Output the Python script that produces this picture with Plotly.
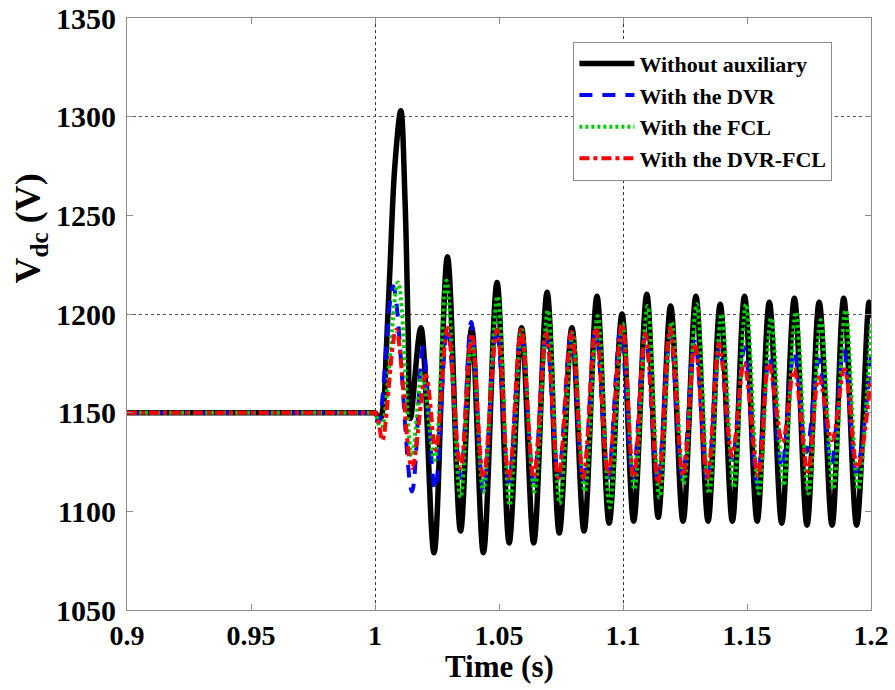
import plotly.graph_objects as go

# ---------------- data (extrema) ----------------
t_black = [0.9, 0.95, 0.998, 0.9995, 1.0, 1.002, 1.0035, 1.0045, 1.006, 1.008, 1.0104, 1.0121, 1.0134, 1.0143,
           1.0185, 1.0238, 1.0292, 1.0345, 1.039, 1.0437, 1.0492, 1.0541, 1.0591, 1.064,
           1.0694, 1.0743, 1.0794, 1.0843, 1.0895, 1.0944, 1.0996, 1.1043, 1.1096, 1.1142,
           1.1192, 1.1242, 1.1294, 1.1343, 1.1392, 1.1441, 1.149, 1.1541, 1.159, 1.164,
           1.1691, 1.1742, 1.1791, 1.1843, 1.189, 1.1942, 1.1992, 1.2]
v_black = [1150, 1150, 1150, 1150, 1150, 1147, 1155, 1180, 1222, 1275, 1303, 1258, 1190, 1147,
           1193, 1079, 1229, 1090, 1193, 1079, 1216, 1084, 1193, 1084,
           1211, 1089, 1193, 1090, 1209, 1094, 1200, 1095, 1210, 1097,
           1204, 1095, 1209, 1095, 1205, 1095, 1209, 1095, 1206, 1094,
           1208, 1093, 1206, 1093, 1208, 1093, 1206, 1198]

t_dvr = [0.9, 0.95, 0.998, 0.9995, 1.0, 1.0015, 1.0073, 1.0149, 1.0194, 1.0242, 1.0292, 1.0345, 1.0388, 1.0437,
         1.049, 1.054, 1.0589, 1.064, 1.069, 1.074, 1.079, 1.084, 1.089, 1.094, 1.099,
         1.104, 1.109, 1.114, 1.119, 1.124, 1.129, 1.134, 1.139, 1.144, 1.149, 1.154,
         1.159, 1.164, 1.169, 1.174, 1.179, 1.184, 1.189, 1.194, 1.2]
v_dvr = [1150, 1150, 1150, 1150, 1150, 1145, 1214, 1110, 1183, 1111, 1193, 1117, 1196, 1110,
         1193, 1115, 1190, 1115, 1190, 1117, 1190, 1115, 1192, 1117, 1192,
         1117, 1190, 1115, 1190, 1117, 1186, 1115, 1183, 1126, 1183, 1114,
         1178, 1122, 1181, 1130, 1177, 1124, 1182, 1120, 1179]

t_fcl = [0.9, 0.95, 0.998, 0.9995, 1.0, 1.0025, 1.0093, 1.0149, 1.019, 1.024, 1.0288, 1.0345, 1.039, 1.0437,
         1.0494, 1.0543, 1.0592, 1.0643, 1.0697, 1.0745, 1.0797, 1.0846, 1.0898, 1.0947,
         1.0998, 1.1046, 1.1099, 1.1147, 1.1196, 1.1245, 1.1297, 1.1347, 1.1397, 1.1447,
         1.1496, 1.1548, 1.1597, 1.1648, 1.1697, 1.1748, 1.1797, 1.1848, 1.1897, 1.1948, 1.2]
v_fcl = [1150, 1150, 1150, 1150, 1150, 1141, 1216, 1128, 1170, 1126, 1217, 1107, 1188, 1110,
         1209, 1103, 1192, 1110, 1202, 1104, 1190, 1110, 1199, 1102,
         1195, 1111, 1204, 1107, 1196, 1114, 1205, 1109, 1200, 1112,
         1205, 1109, 1198, 1113, 1201, 1109, 1197, 1111, 1202, 1111, 1196]

t_both = [0.9, 0.95, 0.998, 0.9995, 1.0, 1.001, 1.003, 1.0085, 1.0149, 1.0205, 1.0245, 1.0292, 1.0345, 1.039,
          1.0437, 1.0492, 1.054, 1.0589, 1.064, 1.069, 1.074, 1.0792, 1.084, 1.089,
          1.094, 1.0996, 1.1043, 1.109, 1.1142, 1.119, 1.1242, 1.129, 1.134, 1.1388,
          1.144, 1.1488, 1.1545, 1.1588, 1.1643, 1.169, 1.1745, 1.179, 1.1843, 1.1893,
          1.1945, 1.2]
v_both = [1150, 1150, 1150, 1150, 1150, 1148, 1136, 1192, 1122, 1169, 1131, 1193, 1122, 1190,
          1117, 1192, 1117, 1192, 1117, 1190, 1117, 1191, 1117, 1193,
          1119, 1195, 1117, 1190, 1114, 1193, 1118, 1185, 1117, 1185,
          1128, 1175, 1118, 1175, 1135, 1172, 1120, 1168, 1136, 1172,
          1122, 1168]

names = ["Without auxiliary", "With the DVR", "With the FCL", "With the DVR-FCL"]

x_ticks = [0.9, 0.95, 1.0, 1.05, 1.1, 1.15, 1.2]
x_ticktext = ["0.9", "0.95", "1", "1.05", "1.1", "1.15", "1.2"]
y_ticks = [1050, 1100, 1150, 1200, 1250, 1300, 1350]
x_grid = [0.9, 1.0, 1.1, 1.2]
y_grid = [1200, 1300, 1350]

FONT = "Liberation Serif"

fig = go.Figure()
fig.add_trace(go.Scatter(x=t_black, y=v_black, name=names[0], mode="lines",
                         line=dict(color="black", width=5.5, shape="spline", smoothing=1.0)))
fig.add_trace(go.Scatter(x=t_dvr, y=v_dvr, name=names[1], mode="lines",
                         line=dict(color="#0000ff", width=4, dash="13px,10px", shape="spline", smoothing=1.0)))
fig.add_trace(go.Scatter(x=t_fcl, y=v_fcl, name=names[2], mode="lines",
                         line=dict(color="#00cc00", width=4, dash="3px,3px", shape="spline", smoothing=1.0)))
fig.add_trace(go.Scatter(x=t_both, y=v_both, name=names[3], mode="lines",
                         line=dict(color="#ff0000", width=4, dash="10px,4px,4px,4px", shape="spline", smoothing=1.0)))
# empty trace that carries the grid axes
fig.add_trace(go.Scatter(x=[None], y=[None], xaxis="x2", yaxis="y2", showlegend=False, hoverinfo="skip"))

axis_common = dict(showline=True, linecolor="#8c8c8c", linewidth=1, mirror="ticks",
                   ticks="inside", ticklen=6, tickcolor="#8c8c8c", showgrid=False,
                   zeroline=False, automargin=False)

fig.update_layout(
    width=895, height=690,
    margin=dict(l=127, r=24, t=18, b=80, autoexpand=False),
    paper_bgcolor="white", plot_bgcolor="white",
    font=dict(family=FONT, color="black"),
    xaxis=dict(range=[0.9, 1.2], tickmode="array", tickvals=x_ticks, ticktext=x_ticktext,
               ticklabelstandoff=0, tickfont=dict(family=FONT, size=28, color="black", weight="bold"),
               **axis_common),
    yaxis=dict(range=[1050, 1350], tickmode="array", tickvals=y_ticks, ticklabelstandoff=4,
               tickfont=dict(family=FONT, size=30, color="black", weight="bold"),
               **axis_common),
    xaxis2=dict(range=[0.9, 1.2], overlaying="x", anchor="y2", tickmode="array", tickvals=x_grid,
                showticklabels=False, ticks="", showline=False, zeroline=False, automargin=False,
                showgrid=True, gridcolor="#333333", griddash="dot", gridwidth=1),
    yaxis2=dict(range=[1050, 1350], overlaying="y", anchor="x2", tickmode="array", tickvals=y_grid,
                showticklabels=False, ticks="", showline=False, zeroline=False, automargin=False,
                showgrid=True, gridcolor="#555555", griddash="dot", gridwidth=1),
    legend=dict(x=0.6, y=0.96, xanchor="left", yanchor="top",
                bgcolor="white", bordercolor="#8c8c8c", borderwidth=1,
                font=dict(family=FONT, size=22, color="black", weight="bold"),
                tracegroupgap=0, itemwidth=55),
    showlegend=True,
)
fig.add_annotation(text="<b>Time (s)</b>", xref="paper", yref="paper",
                   x=0.5, y=-0.096, xanchor="center", yanchor="middle", showarrow=False,
                   font=dict(family=FONT, size=31, color="black"))
fig.add_annotation(text="<b>V<sub>dc</sub> (V)</b>", xref="paper", yref="paper",
                   x=-0.13, y=0.645, xanchor="center", yanchor="middle", textangle=-90,
                   showarrow=False, font=dict(family=FONT, size=36, color="black"))
fig.write_html("out.html")
